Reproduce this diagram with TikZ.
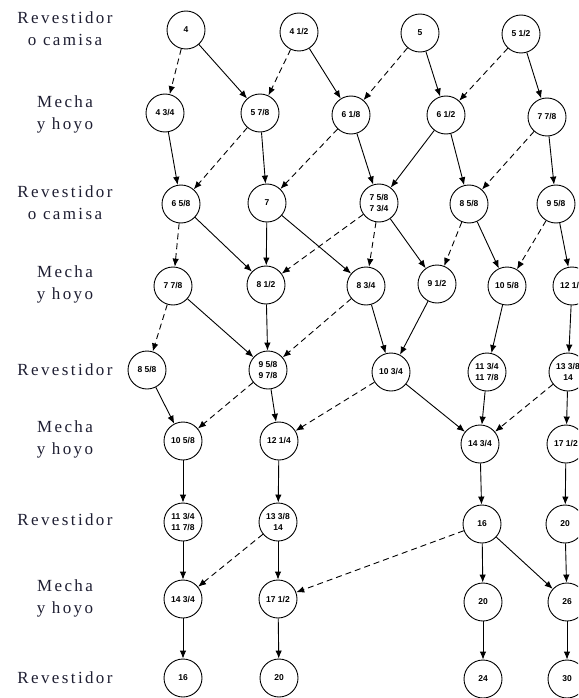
\documentclass[tikz,border=0pt]{standalone}
\usepackage{fontspec}
\setmainfont{Liberation Serif}
\setsansfont{Liberation Sans}
\newfontfamily\labfont[LetterSpace=14]{Liberation Serif}
\usetikzlibrary{arrows.meta}
\definecolor{labcol}{HTML}{1E1E32}
\tikzset{
  st/.style={circle, draw, line width=0.9pt, minimum size=38pt, inner sep=0pt,
    font=\sffamily\bfseries\fontsize{8.5}{11.5}\selectfont, align=center},
  lab/.style={font=\labfont\fontsize{17}{22}\selectfont, align=center, text=labcol},
  sa/.style={-{Latex[length=8pt,width=6.5pt]}, line width=0.9pt},
  da/.style={sa, dash pattern=on 6pt off 4pt},
}
\begin{document}
\begin{tikzpicture}[x=1pt,y=-1pt]
\clip (0,0) rectangle (578,698);
% left labels
\node[lab] (l1) at (65,29) {Revestidor\\o camisa};
\node[lab] (l2) at (65,114) {Mecha\\y hoyo};
\node[lab] (l3) at (65,203) {Revestidor\\o camisa};
\node[lab] (l4) at (65,284) {Mecha\\y hoyo};
\node[lab] (l5) at (65,370) {Revestidor};
\node[lab] (l6) at (65,439) {Mecha\\y hoyo};
\node[lab] (l7) at (65,520) {Revestidor};
\node[lab] (l8) at (65,598) {Mecha\\y hoyo};
\node[lab] (l9) at (65,678) {Revestidor};
% row 1
\node[st] (a1) at (186,30) {4};
\node[st] (a2) at (299,32) {4 1/2};
\node[st] (a3) at (420,33) {5};
\node[st] (a4) at (521,34) {5 1/2};
% row 2
\node[st] (b1) at (165,113) {4 3/4};
\node[st] (b2) at (260,113) {5 7/8};
\node[st] (b3) at (351,115) {6 1/8};
\node[st] (b4) at (446,115) {6 1/2};
\node[st] (b5) at (547,117) {7 7/8};
% row 3
\node[st] (c1) at (181,204) {6 5/8};
\node[st] (c2) at (267,203) {7};
\node[st] (c3) at (379,203) {7 5/8\\7 3/4};
\node[st] (c4) at (469,204) {8 5/8};
\node[st] (c5) at (556,204) {9 5/8};
% row 4
\node[st] (d1) at (173,286) {7 7/8};
\node[st] (d2) at (266,285) {8 1/2};
\node[st] (d3) at (366,286) {8 3/4};
\node[st] (d4) at (437,284) {9 1/2};
\node[st] (d5) at (507,286) {10 5/8};
\node[st] (d6) at (572,286) {12 1/4};
% row 5
\node[st] (e1) at (147,370) {8 5/8};
\node[st] (e2) at (268,370) {9 5/8\\9 7/8};
\node[st] (e3) at (391,372) {10 3/4};
\node[st] (e4) at (487,372) {11 3/4\\11 7/8};
\node[st] (e5) at (568,372) {13 3/8\\14};
% row 6
\node[st] (f1) at (183,441) {10 5/8};
\node[st] (f2) at (279,441) {12 1/4};
\node[st] (f3) at (480,444) {14 3/4};
\node[st] (f4) at (566,444) {17 1/2};
% row 7
\node[st] (g1) at (183,522) {11 3/4\\11 7/8};
\node[st] (g2) at (278,522) {13 3/8\\14};
\node[st] (g3) at (482,524) {16};
\node[st] (g4) at (565,524) {20};
% row 8
\node[st] (h1) at (183,599) {14 3/4};
\node[st] (h2) at (278,599) {17 1/2};
\node[st] (h3) at (483,602) {20};
\node[st] (h4) at (567,602) {26};
% row 9
\node[st] (i1) at (183,678) {16};
\node[st] (i2) at (279,678) {20};
\node[st] (i3) at (483,679) {24};
\node[st] (i4) at (567,679) {30};
% edges row1-row2
\draw[da] (a1) -- (b1);
\draw[sa] (a1) -- (b2);
\draw[da] (a2) -- (b2);
\draw[sa] (a2) -- (b3);
\draw[da] (a3) -- (b3);
\draw[sa] (a3) -- (b4);
\draw[da] (a4) -- (b4);
\draw[sa] (a4) -- (b5);
% row2-row3
\draw[sa] (b1) -- (c1);
\draw[da] (b2) -- (c1);
\draw[sa] (b2) -- (c2);
\draw[da] (b3) -- (c2);
\draw[sa] (b3) -- (c3);
\draw[sa] (b4) -- (c3);
\draw[sa] (b4) -- (c4);
\draw[da] (b5) -- (c4);
\draw[sa] (b5) -- (c5);
% row3-row4
\draw[da] (c1) -- (d1);
\draw[sa] (c1) -- (d2);
\draw[sa] (c2) -- (d2);
\draw[sa] (c2) -- (d3);
\draw[da] (c3) -- (d2);
\draw[da] (c3) -- (d3);
\draw[sa] (c3) -- (d4);
\draw[da] (c4) -- (d4);
\draw[sa] (c4) -- (d5);
\draw[da] (c5) -- (d5);
\draw[sa] (c5) -- (d6);
% row4-row5
\draw[da] (d1) -- (e1);
\draw[sa] (d1) -- (e2);
\draw[sa] (d2) -- (e2);
\draw[da] (d3) -- (e2);
\draw[sa] (d3) -- (e3);
\draw[sa] (d4) -- (e3);
\draw[sa] (d5) -- (e4);
\draw[sa] (d6) -- (e5);
% row5-row6
\draw[sa] (e1) -- (f1);
\draw[da] (e2) -- (f1);
\draw[sa] (e2) -- (f2);
\draw[da] (e3) -- (f2);
\draw[sa] (e3) -- (f3);
\draw[sa] (e4) -- (f3);
\draw[da] (e5) -- (f3);
\draw[sa] (e5) -- (f4);
% row6-row7
\draw[sa] (f1) -- (g1);
\draw[sa] (f2) -- (g2);
\draw[sa] (f3) -- (g3);
\draw[sa] (f4) -- (g4);
% row7-row8
\draw[sa] (g1) -- (h1);
\draw[da] (g2) -- (h1);
\draw[sa] (g2) -- (h2);
\draw[da] (g3) -- (h2);
\draw[sa] (g3) -- (h3);
\draw[sa] (g3) -- (h4);
\draw[sa] (g4) -- (h4);
% row8-row9
\draw[sa] (h1) -- (i1);
\draw[sa] (h2) -- (i2);
\draw[sa] (h3) -- (i3);
\draw[sa] (h4) -- (i4);
\end{tikzpicture}
\end{document}
